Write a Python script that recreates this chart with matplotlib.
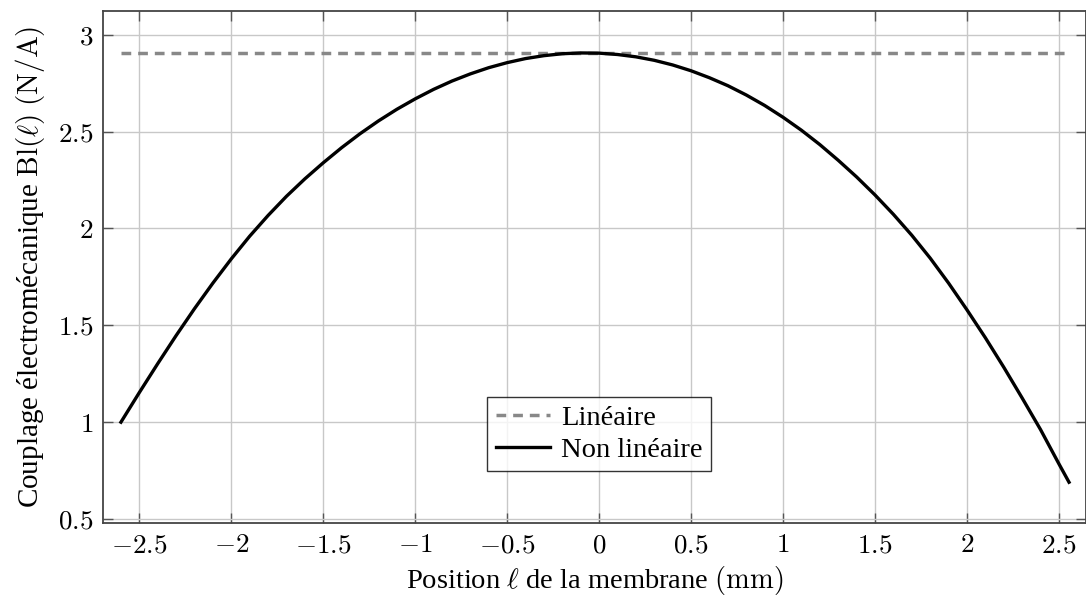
import matplotlib
matplotlib.use('Agg')
import matplotlib.pyplot as plt
from matplotlib.ticker import FuncFormatter

plt.rcParams['font.family'] = ['Liberation Serif', 'DejaVu Serif']
plt.rcParams['mathtext.fontset'] = 'cm'

# position of the membrane (mm) and force factor Bl (N/A)
position = [-2.6, -2.5, -2.4, -2.3, -2.2, -2.1, -2.0, -1.9, -1.8, -1.7, -1.6, -1.5, -1.4,
            -1.3, -1.2, -1.1, -1.0, -0.9, -0.8, -0.7, -0.6, -0.5, -0.4, -0.3, -0.2, -0.1,
            0.0, 0.1, 0.2, 0.3, 0.4, 0.5, 0.6, 0.7, 0.8, 0.9, 1.0, 1.1, 1.2, 1.3, 1.4,
            1.5, 1.6, 1.7, 1.8, 1.9, 2.0, 2.1, 2.2, 2.3, 2.4, 2.5, 2.555]
bl_nonlin = [1.00, 1.153, 1.302, 1.447, 1.586, 1.718, 1.843, 1.960, 2.067, 2.166, 2.256, 2.339, 2.417,
             2.489, 2.555, 2.615, 2.669, 2.718, 2.761, 2.798, 2.830, 2.856, 2.877, 2.892, 2.902, 2.906,
             2.905, 2.898, 2.886, 2.868, 2.844, 2.814, 2.778, 2.737, 2.689, 2.635, 2.574, 2.507, 2.433,
             2.352, 2.266, 2.173, 2.073, 1.965, 1.847, 1.718, 1.58, 1.436, 1.284, 1.125, 0.962, 0.785, 0.69]
lin_x = [-2.6, 2.555]
bl_lin = [2.905, 2.905]

xticks = [-2.5, -2, -1.5, -1, -0.5, 0, 0.5, 1, 1.5, 2, 2.5]
yticks = [0.5, 1, 1.5, 2, 2.5, 3]

fig = plt.figure(figsize=(10.86, 5.99), dpi=100)
ax = fig.add_axes([0.0951, 0.1264, 0.9045, 0.8557])

ax.plot(lin_x, bl_lin, color='#888888', lw=2.5, dashes=(2.8, 2.0), label='Linéaire')
ax.plot(position, bl_nonlin, color='black', lw=2.4, label='Non linéaire')

ax.set_xlim(-2.696, 2.645)
ax.set_ylim(0.478, 3.124)
ax.set_xticks(xticks)
ax.set_yticks(yticks)
fmt = FuncFormatter(lambda v, p: '$%g$' % v)
ax.xaxis.set_major_formatter(fmt)
ax.yaxis.set_major_formatter(fmt)
ax.tick_params(direction='in', length=7, width=1, color='#555555', labelsize=19.5,
               top=True, right=True, pad=7)
ax.grid(True, color='#c8c8c8', lw=1)
ax.set_axisbelow(True)
for s in ax.spines.values():
    s.set_color('#444444')
    s.set_linewidth(1.3)

ax.set_xlabel(r'Position $\ell$ de la membrane $\mathrm{(mm)}$', fontsize=20.5, labelpad=4)
ax.set_ylabel(r'Couplage électromécanique $\mathrm{Bl}(\ell)$ $\mathrm{(N/A)}$', fontsize=21, labelpad=8)

leg = ax.legend(loc='center', bbox_to_anchor=(0.505, 0.174), fontsize=20.5, frameon=True,
                fancybox=False, edgecolor='black', handlelength=1.9, handletextpad=0.4,
                borderpad=0.3, labelspacing=0.2, borderaxespad=0)
leg.get_frame().set_linewidth(1)

plt.savefig('out.png', dpi=100)
plt.close()
